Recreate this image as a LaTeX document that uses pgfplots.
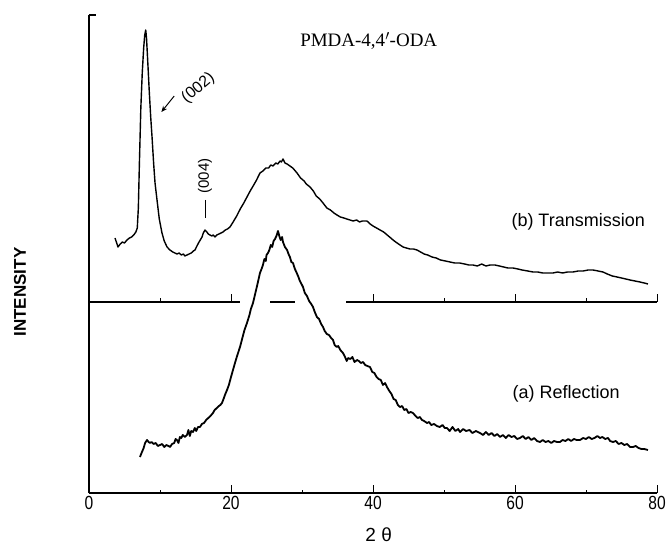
\documentclass[border=0pt]{standalone}
\usepackage{fontspec}
\setmainfont{Liberation Sans}
\newfontfamily\titlefont{Liberation Serif}
\newfontfamily\narrowfont[FakeStretch=0.82]{Liberation Sans}
\usepackage{pgfplots}
\pgfplotsset{compat=1.18}
\usetikzlibrary{arrows.meta}
\begin{document}
\begin{tikzpicture}
\begin{axis}[name=ax, scale only axis, width=568pt, height=478pt,
  xmin=0, xmax=80, ymin=0, ymax=478,
  axis x line*=bottom, axis y line*=left,
  axis line style={line width=1.4pt},
  xtick={0,20,40,60,80}, minor xtick={10,30,50,70}, ytick=\empty,
  tick align=inside, major tick length=8pt, minor tick length=3.5pt,
  tick style={line width=1pt,black},
  xticklabel style={font=\narrowfont\fontsize{19}{19}\selectfont},
  /pgf/number format/assume math mode=true,
  clip=false]
% (b) Transmission
\addplot[black, line width=1.4pt, line join=round] coordinates {
(3.66,255)(3.9,250)(4.08,246)(4.4,249)(4.7,251)(5.0,250)(5.35,253)(5.7,255)(6.0,256)(6.3,258)(6.6,261)(6.8,265)
(6.95,285)(7.1,330)(7.3,385)(7.5,420)(7.7,445)(7.85,458)(7.99,463)(8.1,455)(8.3,428)(8.5,400)(8.7,375)(8.87,357)
(9.1,330)(9.3,310)(9.58,293)(9.9,274)(10.28,260)(10.6,252)(10.99,246)(11.4,243)(11.8,241)(12.1,240)(12.39,239)
(12.7,240)(13.0,238)(13.3,239)(13.5,237)(13.8,238)(14.1,239)(14.4,240)(14.7,242)(14.93,243)(15.2,247)(15.5,251)
(15.92,256)(16.1,260)(16.34,263)(16.6,261)(16.8,259)(17.04,258)(17.3,257)(17.5,258)(17.75,256)(18.0,258)(18.3,259)
(18.6,260)(18.87,261)(19.2,263)(19.5,264)(19.86,266)(20.3,271)(20.8,277)(21.3,284)(21.8,290)(22.25,296)(22.7,302)
(23.2,308)(23.6,313)(24.08,320)(24.5,322)(24.9,325)(25.3,325)(25.6,328)(25.92,327)(26.3,330)(26.6,329)(26.9,332)
(27.1,331)(27.32,334)(27.6,330)(27.9,329)(28.3,327)(28.7,325)(29.3,320)(29.8,315)(30.3,312)(30.6,309)(31.13,306)
(31.6,302)(32.0,297)(32.5,294)(32.96,290)(33.5,285)(34.0,283)(34.5,280)(34.93,278)(35.4,276)(35.9,275)(36.3,274)
(36.76,273)(37.2,272)(37.7,273)(38.1,271)(38.5,272)(39.15,272)(39.6,269)(40.0,267)(40.5,265)(40.99,263)(41.5,261)
(42.0,258)(42.5,255)(43.0,252)(43.6,249)(44.23,246)(44.7,245)(45.2,244)(45.7,244)(46.2,243)(46.7,241)(47.2,239)
(47.7,238)(48.31,236)(48.9,235)(49.5,233)(50.2,232)(50.85,231)(51.5,230)(52.2,230)(52.9,229)(53.5,228)(54.08,228)
(54.7,227)(55.3,229)(55.9,227)(56.5,228)(57.18,228)(57.8,227)(58.4,226)(59.0,225)(59.72,225)(60.4,224)(61.0,223)
(61.8,222)(62.54,221)(63.2,221)(63.9,220)(64.6,220)(65.35,220)(66.0,221)(66.7,220)(67.4,221)(68.17,221)(68.9,222)
(69.6,222)(70.3,223)(70.99,223)(71.7,222)(72.39,221)(73.0,219)(73.7,217)(74.37,216)(75.0,215)(75.6,214)(76.2,213)
(76.9,212)(77.6,211)(78.2,210)(78.73,209)
};
% (a) Reflection
\addplot[black, line width=1.8pt, line join=round] coordinates {
(7.18,36)(7.4,40)(7.7,45)(7.9,50)(8.17,53)(8.4,51)(8.59,50)(8.8,51)(9.1,49)(9.4,50)(9.7,47)(10.0,48)(10.3,49)
(10.6,46)(10.9,48)(11.2,47)(11.41,46)(11.7,49)(12.0,50)(12.2,54)(12.39,53)(12.6,50)(12.8,56)(13.0,55)(13.2,58)
(13.5,56)(13.8,58)(14.0,63)(14.2,57)(14.4,62)(14.65,61)(14.9,65)(15.1,62)(15.35,66)(15.63,66)(15.9,69)(16.2,70)
(16.5,73)(16.8,75)(17.1,77)(17.46,80)(17.7,83)(18.0,85)(18.3,87)(18.5,88)(18.73,90)(19.0,95)(19.2,99)(19.44,103)
(19.7,108)(20.0,116)(20.28,123)(20.6,131)(20.9,138)(21.27,146)(21.6,155)(21.9,163)(22.25,170)(22.6,178)(22.8,184)
(23.1,190)(23.4,199)(23.7,208)(24.08,220)(24.3,224)(24.5,228)(24.7,234)(24.9,232)(25.0,238)(25.21,240)(25.4,243)
(25.6,248)(25.8,246)(26.0,252)(26.2,254)(26.4,257)(26.62,262)(26.8,257)(27.0,253)(27.2,256)(27.32,251)(27.6,246)
(27.9,243)(28.1,239)(28.3,236)(28.5,231)(28.73,230)(29.0,224)(29.2,221)(29.5,216)(29.7,212)(30.0,208)(30.14,206)
(30.4,200)(30.7,197)(31.0,192)(31.3,189)(31.55,186)(31.8,181)(32.1,176)(32.4,174)(32.7,169)(32.96,166)(33.2,162)
(33.5,159)(33.8,158)(34.1,155)(34.37,153)(34.6,148)(34.9,146)(35.1,147)(35.4,143)(35.77,140)(36.0,137)(36.3,132)
(36.5,135)(36.8,134)(37.1,136)(37.4,131)(37.75,133)(38.0,132)(38.3,130)(38.6,131)(38.9,128)(39.2,127)(39.58,126)
(39.9,121)(40.2,120)(40.5,116)(40.8,114)(41.1,113)(41.4,108)(41.7,110)(41.97,106)(42.3,102)(42.6,99)(42.9,94)
(43.2,93)(43.5,88)(43.8,86)(44.1,87)(44.4,83)(44.7,84)(45.0,80)(45.3,81)(45.63,80)(46.0,77)(46.3,75)(46.6,76)
(46.9,73)(47.2,72)(47.61,70)(47.9,71)(48.2,68)(48.6,69)(49.0,67)(49.4,66)(49.8,68)(50.1,65)(50.42,65)(50.8,62)
(51.2,66)(51.6,62)(52.0,64)(52.25,61)(52.7,64)(53.1,62)(53.6,63)(54.0,60)(54.5,62)(55.07,60)(55.5,58)(55.9,61)
(56.3,58)(56.7,60)(57.1,57)(57.5,59)(57.89,56)(58.3,58)(58.7,55)(59.1,58)(59.5,56)(59.9,57)(60.3,54)(60.7,55)
(61.1,57)(61.5,54)(61.9,56)(62.3,53)(62.7,55)(63.1,52)(63.52,51)(63.9,53)(64.3,51)(64.7,52)(65.1,50)(65.5,52)
(65.9,51)(66.34,51)(66.7,53)(67.1,52)(67.5,54)(67.9,52)(68.3,54)(68.7,53)(69.15,53)(69.6,55)(70.0,54)(70.4,56)
(70.8,54)(71.2,55)(71.6,57)(71.97,55)(72.3,56)(72.7,54)(73.1,55)(73.4,52)(73.8,51)(74.2,52)(74.6,49)(75.0,50)
(75.4,48)(75.8,49)(76.2,46)(76.62,46)(77.0,47)(77.4,45)(77.8,44)(78.2,44)(78.73,43)
};
% baseline of (b)
\addplot[black, line width=1.3pt] coordinates {(0,191)(21.2,191)};
\addplot[black, line width=1.3pt] coordinates {(25.5,191)(29.0,191)};
\addplot[black, line width=1.3pt] coordinates {(36.2,191)(80,191)};
\draw[line width=1pt] (axis cs:10,191) -- (axis cs:10,194.5);
\draw[line width=1pt] (axis cs:20,191) -- (axis cs:20,199);
\draw[line width=1pt] (axis cs:40,191) -- (axis cs:40,199);
\draw[line width=1pt] (axis cs:50,191) -- (axis cs:50,194.5);
\draw[line width=1pt] (axis cs:60,191) -- (axis cs:60,199);
\draw[line width=1pt] (axis cs:70,191) -- (axis cs:70,194.5);
\draw[line width=1pt] (axis cs:80,191) -- (axis cs:80,199);
% top bracket of y axis
\draw[line width=1.4pt] (axis cs:0,478) -- (axis cs:1,478);
% annotations
\node[font=\titlefont\fontsize{19}{19}\selectfont] at (axis cs:39.4,452) {PMDA-4,4$'$-ODA};
\node[font=\fontsize{18}{18}\selectfont] at (axis cs:68.9,271) {(b) Transmission};
\node[font=\fontsize{18}{18}\selectfont] at (axis cs:67.2,99) {(a) Reflection};
\node[rotate=40, inner sep=0pt, font=\fontsize{16}{16}\selectfont] at (axis cs:15.4,405) {(002)};
\draw[-{Stealth[length=6pt,width=5pt]}, line width=1pt] (axis cs:12.0,397) -- (axis cs:10.2,381);
\node[rotate=90, inner sep=0pt, font=\fontsize{15}{15}\selectfont] at (axis cs:16.34,317) {(004)};
\draw[line width=1pt] (axis cs:16.34,293) -- (axis cs:16.34,275);
\node[rotate=90, font=\bfseries\fontsize{17}{17}\selectfont] at (axis cs:-9.7,201) {INTENSITY};
\node[anchor=north, inner sep=0pt, font=\fontsize{19}{19}\selectfont] at (axis cs:40.8,-35) {2 θ};
\end{axis}
\pgfresetboundingbox
\useasboundingbox ([xshift=-89pt,yshift=-52pt]ax.south west) rectangle ([xshift=13pt,yshift=15pt]ax.north east);
\end{tikzpicture}
\end{document}
